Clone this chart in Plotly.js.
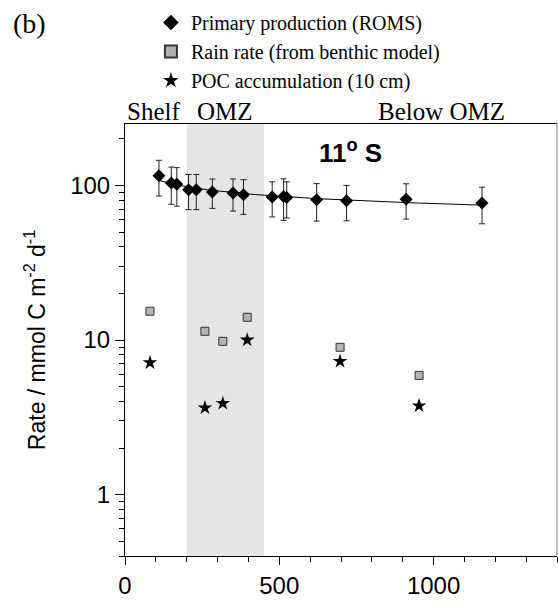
<!DOCTYPE html>
<html>
<head>
<meta charset="utf-8">
<script src="https://cdn.plot.ly/plotly-3.0.1.min.js"></script>
<style>html,body{margin:0;padding:0;background:#fff;}#chart{width:558px;height:605px;}</style>
</head>
<body>
<div id="chart"></div>
<script>
// Primary production (ROMS)
const ppDepth = [110, 150, 168, 206, 231, 283, 350, 384, 477, 514, 524, 621, 718, 911, 1157];
const ppRate  = [115.5, 103.6, 102, 93.8, 93.8, 90.6, 89.3, 87.0, 84.1, 84.9, 83.6, 80.8, 79.6, 81.6, 77.0];
const ppErr   = [30, 28, 28.5, 24, 24, 19.5, 21, 22, 21.5, 25.5, 22, 22, 20.5, 21, 20.5];
// Rain rate (from benthic model)
const rainDepth = [81, 259, 317, 396, 697, 953];
const rainRate  = [15.35, 11.39, 9.81, 14.03, 8.97, 5.90];
// POC accumulation (10 cm)
const pocDepth = [81, 259, 317, 396, 697, 953];
const pocRate  = [7.13, 3.64, 3.89, 10.0, 7.28, 3.75];
// OMZ zone
const omzRange = [200, 450];
const seriesNames = ["Primary production (ROMS)", "Rain rate (from benthic model)", "POC accumulation (10 cm)"];

// power-law fit of primary production (log-log least squares)
const lx = ppDepth.map(v => Math.log10(v));
const ly = ppRate.map(v => Math.log10(v));
const mx = lx.reduce((a, b) => a + b, 0) / lx.length;
const my = ly.reduce((a, b) => a + b, 0) / ly.length;
let sxy = 0, sxx = 0;
for (let i = 0; i < lx.length; i++) { sxy += (lx[i] - mx) * (ly[i] - my); sxx += (lx[i] - mx) ** 2; }
const slope = sxy / sxx;
const xmin = Math.min(...ppDepth), xmax = Math.max(...ppDepth);
const fitX = [], fitY = [];
for (let i = 0; i <= 60; i++) {
  const x = xmin + (xmax - xmin) * i / 60;
  fitX.push(x);
  fitY.push(Math.pow(10, my + slope * (Math.log10(x) - mx)));
}

const traces = [
  {x: fitX, y: fitY, mode: 'lines', line: {color: '#000', width: 1}, showlegend: false, hoverinfo: 'skip'},
  {x: ppDepth, y: ppRate, name: seriesNames[0], mode: 'markers', type: 'scatter',
   marker: {symbol: 'diamond', size: 10, color: '#000'},
   error_y: {type: 'data', array: ppErr, visible: true, color: '#222', thickness: 1, width: 3}},
  {x: rainDepth, y: rainRate, name: seriesNames[1], mode: 'markers', type: 'scatter',
   marker: {symbol: 'square', size: 8, color: '#b3b3b3', line: {color: '#333', width: 1}}},
  {x: pocDepth, y: pocRate, name: seriesNames[2], mode: 'markers', type: 'scatter',
   marker: {symbol: 'star', size: 11, color: '#000'}}
];

const layout = {
  width: 558, height: 605,
  margin: {l: 125, r: 1, t: 124, b: 49},
  paper_bgcolor: '#fff', plot_bgcolor: '#fff',
  font: {family: 'Liberation Sans, Arial, sans-serif', color: '#000'},
  showlegend: true,
  legend: {
    x: 0.06, xanchor: 'left', y: 1 - 3/605, yref: 'container', yanchor: 'top',
    font: {family: 'Liberation Serif, Times New Roman, serif', size: 20, color: '#000'},
    itemsizing: 'constant', tracegroupgap: 0, bgcolor: 'rgba(0,0,0,0)', borderwidth: 0
  },
  xaxis: {
    range: [0, 1400], tickmode: 'linear', tick0: 0, dtick: 500,
    ticks: 'outside', ticklen: 8, tickwidth: 1, tickcolor: '#000',
    showline: true, linecolor: '#000', linewidth: 1, mirror: true,
    showgrid: false, zeroline: false,
    tickfont: {size: 24, family: 'Liberation Sans, Arial, sans-serif'},
    minor: {dtick: 100, ticks: 'outside', ticklen: 5, tickcolor: '#000', showgrid: false}
  },
  yaxis: {
    type: 'log', range: [Math.log10(0.4), Math.log10(250)],
    tickvals: [1, 10, 100], ticktext: ['1', '10', '100'],
    ticks: 'outside', ticklen: 9, tickwidth: 1, tickcolor: '#000',
    showline: true, linecolor: '#000', linewidth: 1, mirror: false,
    showgrid: false, zeroline: false,
    tickfont: {size: 24, family: 'Liberation Sans, Arial, sans-serif'},
    minor: {dtick: 'D1', ticks: 'outside', ticklen: 5, tickcolor: '#000', showgrid: false},
    title: {text: 'Rate / mmol C m<sup>-2</sup> d<sup>-1</sup>', font: {size: 23, family: 'Liberation Sans, Arial, sans-serif'}, standoff: 18}
  },
  shapes: [
    {type: 'rect', xref: 'x', yref: 'paper', x0: omzRange[0], x1: omzRange[1], y0: 0, y1: 1,
     fillcolor: '#e5e5e5', line: {width: 0}, layer: 'below'},
    {type: 'line', xref: 'paper', yref: 'paper', x0: 1, x1: 1, y0: 0, y1: 1, line: {color: '#777', width: 1}}
  ],
  annotations: [
    {text: '(b)', xref: 'paper', yref: 'paper', x: -0.222, y: 1.2315, xanchor: 'center', yanchor: 'middle', showarrow: false,
     font: {family: 'Liberation Serif, Times New Roman, serif', size: 28}},
    {text: 'Shelf', xref: 'x', yref: 'paper', x: 93, y: 1, yshift: -3, xanchor: 'center', yanchor: 'bottom', showarrow: false,
     font: {family: 'Liberation Serif, Times New Roman, serif', size: 25}},
    {text: 'OMZ', xref: 'x', yref: 'paper', x: 323, y: 1, yshift: -3, xanchor: 'center', yanchor: 'bottom', showarrow: false,
     font: {family: 'Liberation Serif, Times New Roman, serif', size: 25}},
    {text: 'Below OMZ', xref: 'x', yref: 'paper', x: 1025, y: 1, yshift: -3, xanchor: 'center', yanchor: 'bottom', showarrow: false,
     font: {family: 'Liberation Serif, Times New Roman, serif', size: 25}},
    {text: '<b>11<sup>o</sup> S</b>', xref: 'paper', yref: 'paper', x: 0.523, y: 0.9375, xanchor: 'center', yanchor: 'middle', showarrow: false,
     font: {family: 'Liberation Sans, Arial, sans-serif', size: 26}}
  ]
};

Plotly.newPlot('chart', traces, layout, {staticPlot: true, displayModeBar: false});
</script>
</body>
</html>
